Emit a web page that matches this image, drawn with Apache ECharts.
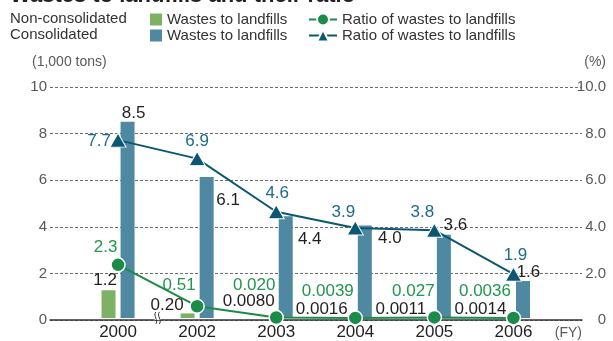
<!DOCTYPE html>
<html><head><meta charset="utf-8">
<script src="https://cdn.jsdelivr.net/npm/echarts@6/dist/echarts.min.js"></script>
<style>html,body{margin:0;padding:0;background:#fff}#c{width:613px;height:341px}</style>
</head><body><div id="c"></div>
<script>
// ---- data ----
const years = ['2000', '2002', '2003', '2004', '2005', '2006'];
const nonConsWaste = [1.2, 0.20, 0.0080, 0.0016, 0.0011, 0.0014];   // 1,000 tons
const consWaste = [8.5, 6.1, 4.4, 4.0, 3.6, 1.6];                     // 1,000 tons
const nonConsRatio = [2.3, 0.51, 0.020, 0.0039, 0.027, 0.0036];       // %
const consRatio = [7.7, 6.9, 4.6, 3.9, 3.8, 1.9];                     // %
const leftTickLabels = ['0', '2', '4', '6', '8', '10'];
const rightTickLabels = ['0', '2.0', '4.0', '6.0', '8.0', '10.0'];

// ---- layout (label offsets in px) ----
const offNonConsWaste = [[-3.5, -1], [-20.5, 0], [-18, -8], [-24, 0], [-24, 0], [-23.5, 0]];
const offConsWaste = [[6, 0], [21.5, 31.5], [24, 31], [25, 21.5], [11.5, -1.5], [5.5, 0]];
const offNonConsRatio = [[-12.5, -17.5], [-18, -20.5], [-22, -32], [-27.5, -26.5], [-21, -26], [-28.5, -26.5]];
const offConsRatio = [[-19, 1], [0, -17], [1, -18.5], [-12, -15.5], [-12, -18], [2, -19]];

const FONT = '"Liberation Sans", Arial, Helvetica, sans-serif';
const C_GREEN_BAR = '#7db265';
const C_BLUE_BAR = '#4f89a1';
const C_GREEN_LINE = '#1a8b48';
const C_BLUE_LINE = '#0b5771';
const C_GREEN_TXT = '#22964f';
const C_BLUE_TXT = '#1f6b8b';
const C_TXT = '#231f20';
const C_TICK = '#58595b';

const fmt = p => Number(p.value).toPrecision(2);
const items = (vals, offs) => vals.map((v, i) => ({ value: v, label: { offset: offs[i] } }));

const NAME_NCW = 'Non-consolidated wastes to landfills';
const NAME_CW = 'Consolidated wastes to landfills';
const NAME_NCR = 'Non-consolidated ratio of wastes to landfills';
const NAME_CR = 'Consolidated ratio of wastes to landfills';
const legendText = {};
legendText[NAME_NCW] = 'Wastes to landfills';
legendText[NAME_CW] = 'Wastes to landfills';
legendText[NAME_NCR] = 'Ratio of wastes to landfills';
legendText[NAME_CR] = 'Ratio of wastes to landfills';

function mkLegend(name, left, top, w, h, icon) {
  const d = { name: name };
  if (icon) d.icon = icon;
  return {
    data: [d], left: left, top: top, itemWidth: w, itemHeight: h,
    selectedMode: false, padding: 0,
    formatter: n => legendText[n],
    textStyle: { fontFamily: FONT, fontSize: 15, color: '#333' }
  };
}

const chart = echarts.init(document.getElementById('c'), null, { renderer: 'canvas' });
const option = {
  animation: false,
  textStyle: { fontFamily: FONT },
  legend: [
    mkLegend(NAME_NCW, 150, 12, 12, 12, 'rect'),
    mkLegend(NAME_CW, 150, 28, 12, 12, 'rect'),
    mkLegend(NAME_NCR, 308, 12, 28, 15),
    mkLegend(NAME_CR, 308, 28, 28, 15)
  ],
  grid: [
    { left: 50, right: 31, top: 87, bottom: 21 },
    { left: 78.5, right: 60, top: 87, bottom: 21 }
  ],
  xAxis: [
    { type: 'value', gridIndex: 0, min: 0, max: 1, axisLabel: { show: false }, axisTick: { show: false },
      splitLine: { show: false }, axisLine: { show: true, lineStyle: { color: '#333', width: 1.5 } } },
    { type: 'category', gridIndex: 1, data: years, axisLine: { show: false }, axisTick: { show: false },
      axisLabel: { margin: 6, fontSize: 17, color: C_TXT, fontFamily: FONT } }
  ],
  yAxis: [
    { type: 'value', gridIndex: 0, min: 0, max: 10, interval: 2, position: 'left',
      axisLine: { show: false }, axisTick: { show: false },
      axisLabel: { margin: 3, fontSize: 15, color: C_TICK, fontFamily: FONT, formatter: v => leftTickLabels[Math.round(v / 2)] },
      splitLine: { show: true, lineStyle: { color: '#6d6e70', type: [3, 2], width: 1 } } },
    { type: 'value', gridIndex: 0, min: 0, max: 10, interval: 2, position: 'right',
      axisLine: { show: false }, axisTick: { show: false },
      axisLabel: { margin: 24, align: 'right', fontSize: 15, color: C_TICK, fontFamily: FONT, formatter: v => rightTickLabels[Math.round(v / 2)] },
      splitLine: { show: false } },
    { type: 'value', gridIndex: 1, min: 0, max: 10, interval: 2, show: false }
  ],
  series: [
    { name: NAME_NCW, type: 'bar', xAxisIndex: 1, yAxisIndex: 2, barWidth: 14, barGap: '36%',
      itemStyle: { color: C_GREEN_BAR },
      label: { show: true, position: 'top', distance: 0, fontSize: 17, color: C_TXT, fontFamily: FONT, formatter: fmt },
      data: items(nonConsWaste, offNonConsWaste) },
    { name: NAME_CW, type: 'bar', xAxisIndex: 1, yAxisIndex: 2, barWidth: 14, barGap: '36%',
      itemStyle: { color: C_BLUE_BAR },
      label: { show: true, position: 'top', distance: 0, fontSize: 17, color: C_TXT, fontFamily: FONT, formatter: fmt },
      data: items(consWaste, offConsWaste) },
    { name: NAME_NCR, type: 'line', xAxisIndex: 1, yAxisIndex: 2, z: 5,
      symbol: 'circle', symbolSize: 14,
      lineStyle: { color: C_GREEN_LINE, width: 2 },
      itemStyle: { color: C_GREEN_LINE, borderColor: '#fff', borderWidth: 1.5 },
      label: { show: true, position: 'inside', fontSize: 17, color: C_GREEN_TXT, fontFamily: FONT, formatter: fmt },
      data: items(nonConsRatio, offNonConsRatio) },
    { name: NAME_CR, type: 'line', xAxisIndex: 1, yAxisIndex: 2, z: 5,
      symbol: 'triangle', symbolSize: [16, 14],
      lineStyle: { color: C_BLUE_LINE, width: 2 },
      itemStyle: { color: C_BLUE_LINE, borderColor: '#fff', borderWidth: 1 },
      label: { show: true, position: 'inside', fontSize: 17, color: C_BLUE_TXT, fontFamily: FONT, formatter: fmt },
      data: items(consRatio, offConsRatio) }
  ],
  graphic: [
    { type: 'text', x: 10, y: 7, style: { text: 'Wastes to landfills and their ratio', font: 'bold 22px ' + FONT, fill: C_TXT, verticalAlign: 'bottom' } },
    { type: 'text', x: 10, y: 19, style: { text: 'Non-consolidated', font: '15px ' + FONT, fill: '#333', verticalAlign: 'middle' } },
    { type: 'text', x: 10, y: 35, style: { text: 'Consolidated', font: '15px ' + FONT, fill: '#333', verticalAlign: 'middle' } },
    { type: 'text', x: 32, y: 62, style: { text: '(1,000 tons)', font: '14px ' + FONT, fill: C_TICK, verticalAlign: 'middle' } },
    { type: 'text', x: 606, y: 62, style: { text: '(%)', font: '14px ' + FONT, fill: C_TICK, align: 'right', verticalAlign: 'middle' } },
    { type: 'text', x: 582, y: 333, style: { text: '(FY)', font: '14px ' + FONT, fill: C_TICK, align: 'right', verticalAlign: 'middle' } }
  ]
};
chart.setOption(option);

// axis break mark between the first two categories
const p0 = chart.convertToPixel({ gridIndex: 1 }, [0, 0]);
const p1 = chart.convertToPixel({ gridIndex: 1 }, [1, 0]);
const bx = (p0[0] + p1[0]) / 2, by = p0[1];
const wave = dx => ({
  type: 'bezierCurve', z: 101,
  shape: { x1: bx + dx, y1: by - 6, cpx1: bx + dx - 3, cpy1: by - 2, cpx2: bx + dx + 3, cpy2: by + 2, x2: bx + dx, y2: by + 6 },
  style: { stroke: '#333', lineWidth: 1, fill: null }
});
chart.setOption({
  graphic: option.graphic.concat([
    { type: 'rect', shape: { x: bx - 3, y: by - 2, width: 6, height: 4 }, style: { fill: '#fff' }, z: 100 },
    wave(-1.8),
    wave(1.8)
  ])
});
</script>
</body></html>
